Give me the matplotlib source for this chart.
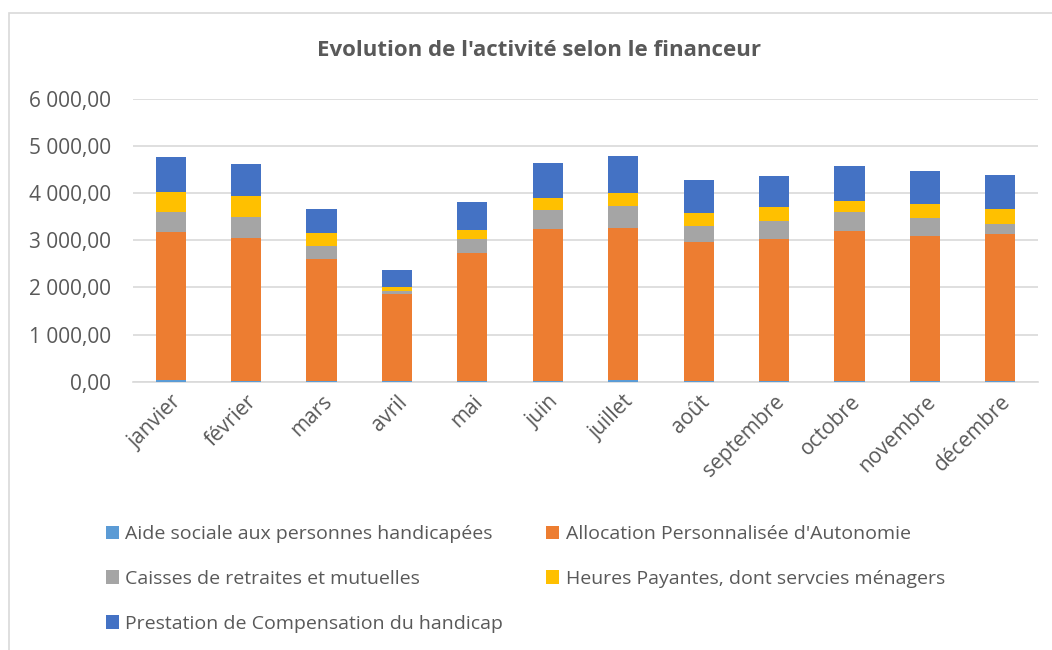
import matplotlib
matplotlib.use("Agg")
import matplotlib.pyplot as plt
from matplotlib.patches import Rectangle, Patch
import numpy as np

months = ["janvier", "février", "mars", "avril", "mai", "juin", "juillet",
          "août", "septembre", "octobre", "novembre", "décembre"]

aide_sociale = [40, 25, 10, 5, 10, 15, 40, 10, 5, 5, 5, 5]
apa = [3146, 3034, 2604, 1859, 2723, 3227, 3231, 2965, 3033, 3188, 3097, 3124]
caisses = [424, 437, 276, 64, 305, 402, 458, 330, 381, 402, 381, 227]
heures = [415, 445, 260, 85, 182, 263, 284, 269, 289, 248, 288, 309]
pch = [742, 671, 524, 368, 594, 741, 775, 699, 650, 742, 693, 714]

series_names = ["Aide sociale aux personnes handicapées",
                "Allocation Personnalisée d'Autonomie",
                "Caisses de retraites et mutuelles",
                "Heures Payantes, dont servcies ménagers",
                "Prestation de Compensation du handicap"]
series_values = [aide_sociale, apa, caisses, heures, pch]
colors = ["#5B9BD5", "#ED7D31", "#A5A5A5", "#FFC000", "#4472C4"]

yticks = [0, 1000, 2000, 3000, 4000, 5000, 6000]

plt.rcParams['font.family'] = ['Open Sans', 'DejaVu Sans']
txt_color = "#595959"

W, H = 1052, 650
fig = plt.figure(figsize=(W / 100, H / 100), dpi=100)

# chart border
fig.patches.append(Rectangle((9 / W, -0.1), 1.2, 1 - 13 / H + 0.1,
                             transform=fig.transFigure, fill=False,
                             edgecolor="#D9D9D9", lw=1.2))

ax = fig.add_axes([133 / W, (H - 381.7) / H, 905 / W, (381.7 - 99) / H])
x = np.arange(len(months))
bottom = np.zeros(len(months))
handles = []
for name, vals, c in zip(series_names, series_values, colors):
    v = np.array(vals, dtype=float)
    ax.bar(x, v, bottom=bottom, width=0.4, color=c, zorder=3, label=name)
    bottom += v
    handles.append(Patch(facecolor=c, label=name))

ax.set_xlim(-0.5, len(months) - 0.5)
ax.set_ylim(0, 6000)
ax.set_yticks(yticks)
ax.set_yticklabels([f"{v:,.2f}".replace(",", " ").replace(".", ",") for v in yticks])
ax.yaxis.grid(True, color="#D9D9D9", lw=1.2, zorder=0)
for s in ["top", "right", "left"]:
    ax.spines[s].set_visible(False)
ax.spines["bottom"].set_color("#D9D9D9")
ax.spines["bottom"].set_linewidth(1.2)
ax.tick_params(axis="y", length=0, pad=16, labelsize=15, labelcolor=txt_color)
ax.tick_params(axis="x", length=0, pad=7, labelsize=15, labelcolor=txt_color)
ax.set_xticks(x)
ax.set_xticklabels(months, rotation=45, ha="right", rotation_mode="anchor")

fig.text(539 / W, 1 - 50 / H, "Evolution de l'activité selon le financeur",
         ha="center", va="center", fontsize=16, fontweight="bold", color=txt_color)

order = [0, 2, 4, 1, 3]
leg = fig.legend([handles[i] for i in order], [series_names[i] for i in order],
                 loc="upper left", bbox_to_anchor=(106 / W, 1 - 525 / H),
                 ncol=2, frameon=False, fontsize=14, handlelength=0.68,
                 handleheight=0.68, handletextpad=0.32, columnspacing=2.2,
                 labelspacing=1.38, borderpad=0, borderaxespad=0)
for t in leg.get_texts():
    t.set_color(txt_color)

fig.savefig("out.png", dpi=100)
